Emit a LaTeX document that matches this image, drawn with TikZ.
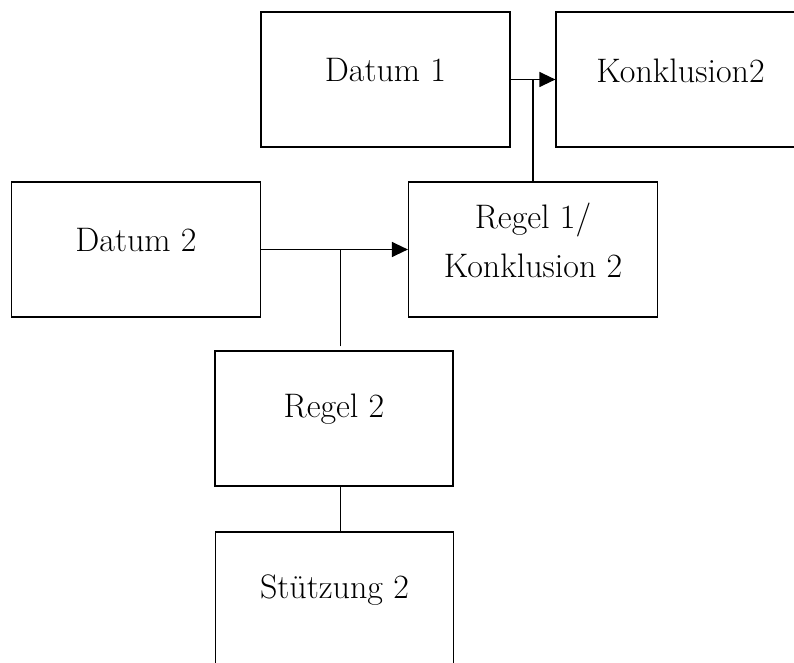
\documentclass[tikz,border=0pt]{standalone}
\usepackage{fontspec}
\usetikzlibrary{arrows.meta,calc}
\begin{document}
\begin{tikzpicture}[x=0.5pt,y=-0.5pt,
  box/.style={draw,line width=0.6pt,rectangle,inner sep=0pt,
    minimum width=124.5pt,minimum height=67.5pt},
  txt/.style={font=\fontsize{17}{24.5}\selectfont,align=center,yshift=4.5pt,inner sep=0pt},
  link/.style={line width=0.65pt},
  tip/.style={link,-{Triangle[length=8pt,width=7.5pt]}}]
  \useasboundingbox (0,0) rectangle (794,663);
  \clip (0,0) rectangle (794,663);

  % argument boxes
  \node[box,label={[txt]center:Datum 1}] (d1) at (385.5,79.5) {};
  \node[box,label={[txt]center:Konklusion2}] (k2) at (680.5,79.5) {};
  \node[box,label={[txt]center:Datum 2}] (d2) at (136,249.5) {};
  \node[box,label={[txt]center:Regel 1/\\Konklusion 2}] (r1) at (533,249.5) {};
  \node[box,minimum width=119pt,label={[txt]center:Regel 2}] (r2) at (334,418.5) {};
  \node[box,minimum width=119pt,label={[txt]center:Stützung 2}] (s2) at (334.5,599.5) {};

  % inference arrows
  \draw[tip] (d1.east) -- (k2.west);
  \draw[tip] (d2.east) -- (r1.west);

  % warrants joining the arrows
  \coordinate (j1) at (d1.east -| r1.north);
  \draw[link] (r1.north) -- (j1);
  \coordinate (j2) at ($(d2.east)!0.539!(r1.west)$);
  \draw[link,shorten <=2pt] (r2.north -| j2) -- (j2);

  % backing
  \draw[link] (r2.south -| j2) -- (s2.north -| j2);
\end{tikzpicture}
\end{document}
